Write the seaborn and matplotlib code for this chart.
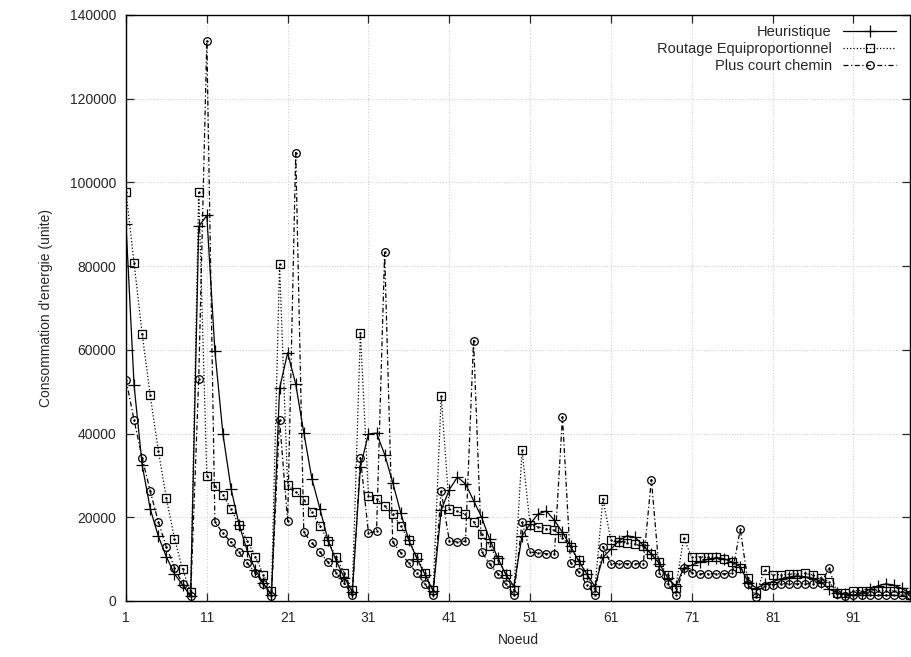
import numpy as np
import pandas as pd
import seaborn as sns
import matplotlib.pyplot as plt

# Energy consumption per node for the three routing strategies

nodes = list(range(1, 99))

heuristique = [
    90000, 51500, 32500, 22000, 15500, 10500, 6500, 3800, 1200,
    89500, 92100, 59700, 39800, 26800, 18200, 12000, 7500, 4200, 1500,
    50800, 59300, 51800, 40200, 29200, 22000, 14500, 9600, 5600, 2200,
    32100, 39900, 40100, 35000, 28300, 21000, 14500, 10100, 6300, 2400,
    21700, 26600, 29600, 28000, 24000, 20000, 14700, 10300, 6300, 3500,
    15600, 18400, 20800, 21500, 19300, 16400, 13100, 9500, 6500, 3500,
    10400, 12400, 14400, 15600, 15200, 13300, 11200, 8900, 5600, 3500,
    7800, 8600, 9300, 10000, 10300, 10100, 9300, 8200, 4400, 3100,
    4000, 4600, 5300, 5700, 6000, 5800, 5400, 4600, 2800, 2000,
    1600, 1400, 1800, 2800, 3600, 4100, 3800, 3000, 1800,
]

equiproportionnel = [
    97800, 80700, 63800, 49100, 35900, 24500, 14900, 7600, 2100,
    97800, 29900, 27400, 25400, 21900, 18100, 14400, 10600, 6300, 2400,
    80400, 27600, 26100, 24200, 21200, 17900, 14400, 10400, 6800, 2600,
    64100, 25200, 24300, 22700, 20700, 17900, 14500, 10400, 6600, 2600,
    49000, 21900, 21400, 20700, 18900, 16000, 13200, 9900, 6400, 2600,
    36000, 18200, 17700, 17300, 16900, 15100, 12900, 9900, 6500, 2600,
    24400, 14500, 14200, 13800, 13600, 13100, 11300, 9200, 6300, 3000,
    15100, 10400, 10600, 10400, 10400, 10000, 9300, 8000, 5600, 2000,
    7400, 6300, 6300, 6400, 6500, 6600, 6200, 5500, 4600, 1800,
    1800, 2400, 2500, 2500, 2500, 2500, 2400, 2200, 1500,
]

plus_court = [
    52900, 43200, 34200, 26200, 18900, 12900, 8000, 4100, 1100,
    53100, 133900, 18900, 16200, 14000, 11600, 9100, 6700, 4100, 1300,
    43200, 19100, 107100, 16400, 13900, 11700, 9200, 6800, 4200, 1400,
    34200, 16200, 16700, 83300, 14100, 11500, 9000, 6600, 4000, 1400,
    26200, 14400, 14100, 14300, 62200, 11800, 8800, 6500, 4000, 1500,
    18800, 11700, 11500, 11300, 11200, 44000, 9100, 7000, 3900, 1500,
    13000, 8900, 8900, 8900, 8900, 8900, 29000, 6600, 4000, 1500,
    8000, 6800, 6500, 6500, 6500, 6500, 6600, 17100, 4000, 1000,
    3500, 3900, 4100, 4100, 4100, 4100, 4100, 4200, 7900, 1600,
    1200, 1400, 1400, 1400, 1400, 1400, 1400, 1400, 1400,
]

xticks = [1, 11, 21, 31, 41, 51, 61, 71, 81, 91]
yticks = [0, 20000, 40000, 60000, 80000, 100000, 120000, 140000]

df = pd.DataFrame({'Noeud': nodes, 'Heuristique': heuristique,
                   'Equi': equiproportionnel, 'Court': plus_court})

sns.set_style('ticks')
plt.rcParams['font.family'] = ['Liberation Sans', 'DejaVu Sans']

fig = plt.figure(figsize=(9.12, 6.57), dpi=100)
ax = fig.add_axes([126 / 912, 56 / 657, 784 / 912, 586 / 657])

lw = 0.9
sns.lineplot(data=df, x='Noeud', y='Heuristique', ax=ax, color='black', lw=lw,
             linestyle='-', marker='+', markersize=8, mew=0.9, mec='black',
             label='Heuristique')
sns.lineplot(data=df, x='Noeud', y='Equi', ax=ax, color='black', lw=lw,
             linestyle=':', marker='s', markersize=6, mfc='none', mec='black',
             mew=0.9, label='Routage Equiproportionnel')
sns.lineplot(data=df, x='Noeud', y='Court', ax=ax, color='black', lw=lw,
             linestyle=(0, (4, 2, 1, 2)), marker='o', markersize=5.5,
             mfc='none', mec='black', mew=0.9, label='Plus court chemin')

# small centre dots inside the open markers, as gnuplot draws them
ax.plot(df['Noeud'], df['Equi'], ls='none', marker='.', ms=1.5, color='black')
ax.plot(df['Noeud'], df['Court'], ls='none', marker='.', ms=1.5, color='black')

ax.set_xlim(1, 98)
ax.set_ylim(0, 140000)
ax.set_xticks(xticks)
ax.set_yticks(yticks)
ax.set_xticklabels([str(t) for t in xticks])
ax.set_yticklabels([str(t) for t in yticks])
ax.grid(True, linestyle=(0, (1, 3)), color='#999999', lw=0.5)
ax.tick_params(direction='in', length=6, width=0.9, top=True, right=True,
               labelsize=10, pad=7)
for s in ax.spines.values():
    s.set_linewidth(1.0)
    s.set_color('black')

ax.set_xlabel('Noeud', fontsize=10, labelpad=6)
ax.set_ylabel("Consommation d'energie (unite)", fontsize=10, labelpad=12)

ax.legend(loc='upper right', bbox_to_anchor=(896 / 912, 1 - 25 / 657),
          bbox_transform=fig.transFigure, frameon=False, markerfirst=False,
          handlelength=3.6, handletextpad=0.8, labelspacing=0.22,
          borderpad=0, borderaxespad=0, fontsize=10.5)

plt.savefig('out.png', dpi=100)
